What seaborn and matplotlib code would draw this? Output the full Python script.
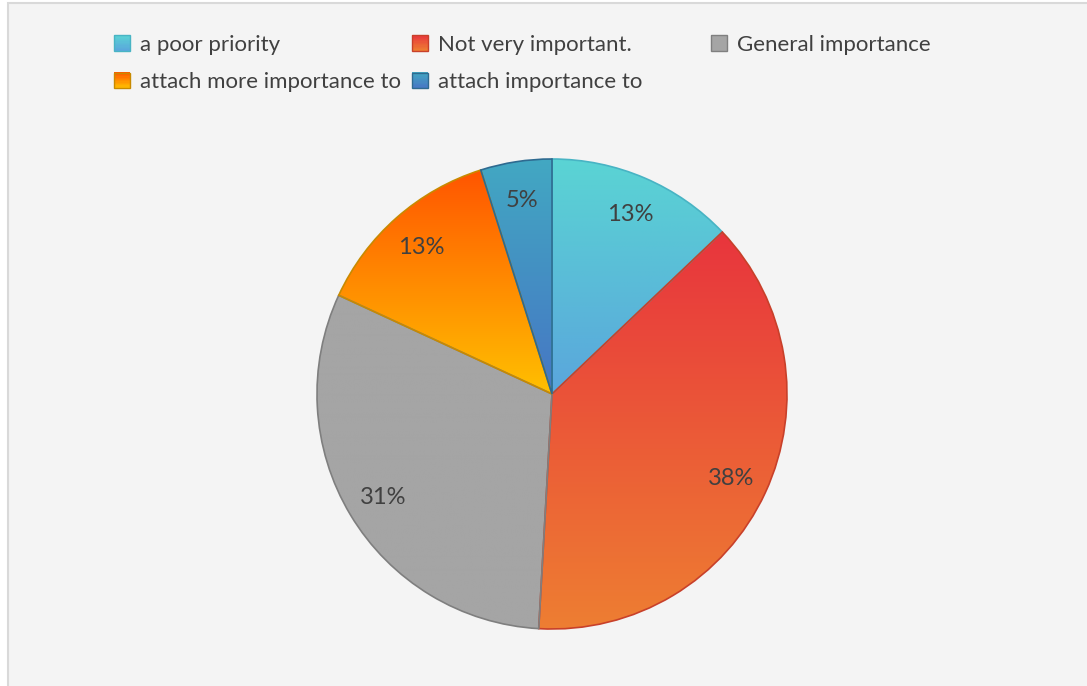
import numpy as np
import matplotlib
matplotlib.use("Agg")
import matplotlib.pyplot as plt
import seaborn as sns
from matplotlib.patches import Rectangle, Patch
from matplotlib.colors import to_rgb
from matplotlib.legend_handler import HandlerBase

categories = ["a poor priority", "Not very important.", "General importance",
              "attach more importance to", "attach importance to"]
values = [12.9, 38.0, 31.0, 13.2, 4.9]
top_colors = ["#5ad4d4", "#e8353d", "#a5a5a5", "#ff5500", "#42a8c2"]
bottom_colors = ["#5aa6dc", "#ee7e32", "#a5a5a5", "#ffc000", "#4676c4"]
edge_colors = ["#48b4c4", "#c8402a", "#7f7f7f", "#c88a00", "#2e6a90"]

sns.set_theme(style="white")
plt.rcParams["font.family"] = ["Lato", "DejaVu Sans"]

W, H = 1087, 686
fig = plt.figure(figsize=(W / 100, H / 100), dpi=100)
fig.patch.set_facecolor("white")
fig.patches.append(Rectangle((8 / W, -0.05), 1.2, 1 - 3 / H + 0.05,
                             transform=fig.transFigure, facecolor="#f4f4f4",
                             edgecolor="#d9d9d9", linewidth=1.5, zorder=-5))

cx, cy, r = 552, 394, 235
ax = fig.add_axes([(cx - r) / W, (H - cy - r) / H, 2 * r / W, 2 * r / H])
ax.set_facecolor("none")
ax.set_zorder(1)

wedges, texts, autotexts = ax.pie(
    values, startangle=90, counterclock=False, radius=1,
    autopct=lambda p: f"{p:.0f}%", pctdistance=0.84,
    wedgeprops=dict(linewidth=1.2),
    textprops=dict(color="#404040", fontsize=17))

for w, tc, bc, ec in zip(wedges, top_colors, bottom_colors, edge_colors):
    ext = w.get_path().get_extents()
    grad = np.linspace(0, 1, 256)[:, None, None]
    img = (1 - grad) * np.array(to_rgb(tc)) + grad * np.array(to_rgb(bc))
    im = ax.imshow(img, extent=[ext.x0, ext.x1, ext.y0, ext.y1], origin="upper",
                   aspect="auto", zorder=1, interpolation="bilinear")
    im.set_clip_path(w)
    w.set_facecolor("none")
    w.set_edgecolor(ec)
    w.set_zorder(2)
for t in autotexts:
    t.set_zorder(5)
    t.set_verticalalignment("center_baseline")

ax.set_xlim(-1, 1)
ax.set_ylim(-1, 1)
ax.set_aspect("equal")
ax.axis("off")


class GradientHandle:
    def __init__(self, top, bottom, edge):
        self.top, self.bottom, self.edge = top, bottom, edge


class HandlerGradient(HandlerBase):
    def create_artists(self, legend, orig_handle, xdescent, ydescent, width, height,
                       fontsize, trans):
        n = 12
        arts = []
        t = np.array(to_rgb(orig_handle.top))
        b = np.array(to_rgb(orig_handle.bottom))
        for k in range(n):
            f = (k + 0.5) / n
            c = (1 - f) * t + f * b
            y = -ydescent + height * (1 - (k + 1) / n)
            arts.append(Rectangle((-xdescent, y), width, height / n + 0.3,
                                  facecolor=c, edgecolor="none", transform=trans))
        arts.append(Rectangle((-xdescent, -ydescent), width, height,
                              facecolor="none", edgecolor=orig_handle.edge,
                              linewidth=1.0, transform=trans))
        return arts


handles = [GradientHandle(t, b, e) for t, b, e in zip(top_colors, bottom_colors, edge_colors)]
cols = [[0, 3], [1, 4], [2]]
xs = [114, 412, 711]
for col, x in zip(cols, xs):
    fig.legend([handles[i] for i in col], [categories[i] for i in col],
               loc="upper left", bbox_to_anchor=(x / W, 1 - 35 / H),
               frameon=False, fontsize=16, labelcolor="#404040",
               handlelength=0.72, handleheight=0.72, handletextpad=0.45,
               labelspacing=0.78, borderpad=0, borderaxespad=0,
               handler_map={GradientHandle: HandlerGradient()})

fig.savefig("out.png", dpi=100)
